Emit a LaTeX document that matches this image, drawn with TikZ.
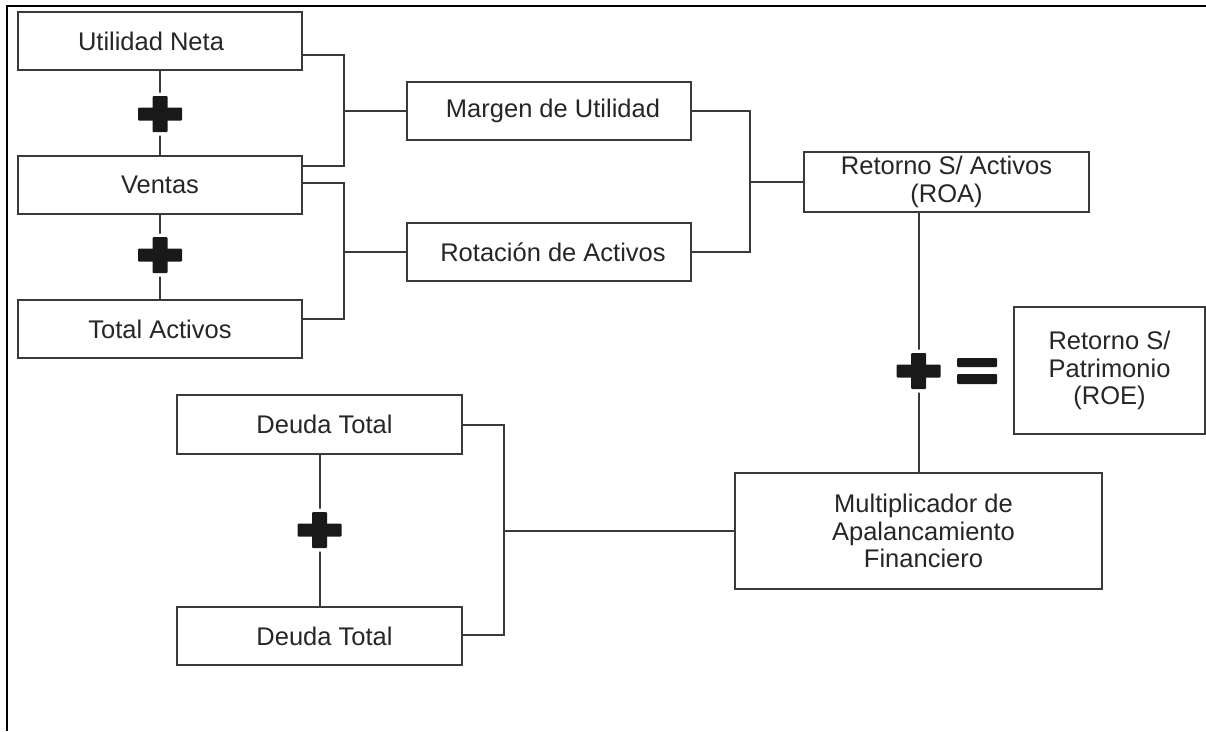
\documentclass[tikz,border=0pt]{standalone}
\usepackage{fontspec}
\setmainfont{Liberation Sans}
\usetikzlibrary{calc}
\definecolor{linegray}{HTML}{3A3A3A}
\definecolor{txt}{HTML}{262626}
\tikzset{
  box/.style={draw=linegray, line width=2.4pt, fill=white, text=txt, align=center,
    inner sep=0pt, font=\fontsize{25.5}{27.5}\selectfont},
  conn/.style={draw=linegray, line width=2pt},
  crossmark/.pic={
    \fill[white, rounded corners=1pt] (-25,-9.5) rectangle (25,9.5);
    \fill[white, rounded corners=1pt] (-10.5,-21.5) rectangle (10.5,21.5);
    \fill[black!90, rounded corners=1pt] (-22,-6.5) rectangle (22,6.5);
    \fill[black!90, rounded corners=1pt] (-7.5,-18) rectangle (7.5,18);
  },
}
\begin{document}
\begin{tikzpicture}[x=1pt,y=-1pt]
\useasboundingbox (0,0) rectangle (1206,731);
% frame
\draw[black, line width=2pt] (7,731) -- (7,6) -- (1206,6);

% boxes
\node[box, minimum width=284, minimum height=58] (un) at (160,41) {Utilidad Neta\hspace*{18pt}};
\node[box, minimum width=284, minimum height=58] (ve) at (160,185) {Ventas};
\node[box, minimum width=284, minimum height=58] (ta) at (160,329) {Total Activos};
\node[box, minimum width=284, minimum height=58] (mu) at (549,111) {\hspace*{8pt}Margen de Utilidad};
\node[box, minimum width=284, minimum height=58] (ra) at (549,252) {\hspace*{8pt}Rotación de Activos};
\node[box, minimum width=285, minimum height=60] (roa) at (946.5,182) {Retorno S/ Activos\\(ROA)};
\node[box, minimum width=191, minimum height=127] (roe) at (1109.5,370.5) {Retorno S/\\Patrimonio\\(ROE)};
\node[box, minimum width=367, minimum height=116] (mult) at (918.5,531) {\hspace*{10pt}Multiplicador de\\\hspace*{10pt}Apalancamiento\\\hspace*{10pt}Financiero};
\node[box, minimum width=285, minimum height=59] (d1) at (319.5,424.5) {\hspace*{10pt}Deuda Total};
\node[box, minimum width=285, minimum height=58] (d2) at (319.5,636) {\hspace*{10pt}Deuda Total};

% plus positions
\coordinate (p1) at (160,114);
\coordinate (p2) at (160,255);
\coordinate (p3) at (319.5,530);
\coordinate (p4) at (918.5,371);

% vertical connectors through plus signs
\draw[conn] (un.south) -- (ve.north);
\draw[conn] (ve.south) -- (ta.north);
\draw[conn] (d1.south) -- (d2.north);
\draw[conn] (roa.south -| mult.north) -- (mult.north);

% brackets
\coordinate (b1) at (344,110.5);
\draw[conn] ($(un.east)+(0,14)$) -| (b1) |- ($(ve.east)+(0,-19)$);
\draw[conn] (b1) -- (b1 -| mu.west);
\coordinate (b2) at (344,252);
\draw[conn] ($(ve.east)+(0,-2)$) -| (b2) |- ($(ta.east)+(0,-10)$);
\draw[conn] (b2) -- (ra.west);
\coordinate (b3) at (750,182);
\draw[conn] (mu.east) -| (b3) |- (ra.east);
\draw[conn] (b3) -- (roa.west);
\coordinate (b4) at (504,531);
\draw[conn] ($(d1.east)+(0,0.5)$) -| (b4) |- ($(d2.east)+(0,-1)$);
\draw[conn] (b4) -- (mult.west);

% plus signs
\pic at (p1) {crossmark};
\pic at (p2) {crossmark};
\pic at (p3) {crossmark};
\pic at (p4) {crossmark};

% equal sign
\coordinate (eq) at (977,371);
\fill[black!90, rounded corners=1pt] ($(eq)+(-20,-13)$) rectangle ($(eq)+(20,-4)$);
\fill[black!90, rounded corners=1pt] ($(eq)+(-20,3)$) rectangle ($(eq)+(20,13)$);
\end{tikzpicture}
\end{document}
